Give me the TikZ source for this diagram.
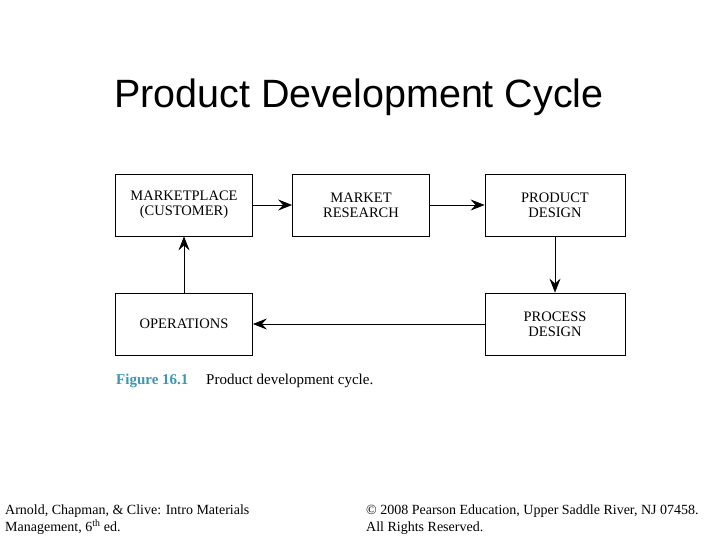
\documentclass[tikz,border=0pt]{standalone}
\usepackage{fontspec}
\setmainfont{Liberation Serif}
\newfontfamily\titlefont{Liberation Sans}
\usetikzlibrary{arrows.meta}
\definecolor{figteal}{RGB}{60,150,180}
\begin{document}
\begin{tikzpicture}[x=1pt,y=-1pt,
  box/.style={draw,line width=0.8pt,minimum width=137pt,minimum height=62pt,align=center,font=\fontsize{14.5}{15}\selectfont,inner sep=0pt},
  conn/.style={line width=0.8pt,-{Stealth[length=14pt,width=11pt,inset=5pt]}}]
\useasboundingbox (0,0) rectangle (720,540);
\node[font=\titlefont\fontsize{39.5}{44}\selectfont] (title) at (359,97) {Product Development Cycle};
\node[box] (mp) at (184,205) {MARKETPLACE\\(CUSTOMER)};
\node[box] (mr) at (361,205) {MARKET\\RESEARCH};
\node[box,minimum width=140pt] (pd) at (555,205) {PRODUCT\\DESIGN};
\node[box] (op) at (184,324) {OPERATIONS};
\node[box,minimum width=140pt] (prd) at (555,324) {PROCESS\\DESIGN};
\draw[conn] (mp) -- (mr);
\draw[conn] (mr) -- (pd);
\draw[conn] (pd) -- (prd);
\draw[conn] (prd) -- (op);
\draw[conn] (op) -- (mp);
\node[anchor=west,inner sep=0pt,font=\bfseries\fontsize{15}{16}\selectfont,text=figteal] (fig) at (116,381) {Figure 16.1};
\node[anchor=west,inner sep=0pt,font=\fontsize{15}{16}\selectfont] (cap) at (206,381) {Product development cycle.};
\node[anchor=north west,inner sep=0pt,align=left,font=\fontsize{14}{17}\selectfont] (fl) at (5,505) {Arnold, Chapman, \& Clive: Intro Materials\\Management, 6\textsuperscript{th} ed.};
\node[anchor=north west,inner sep=0pt,align=left,font=\fontsize{14}{17}\selectfont] (fr) at (366,505) {© 2008 Pearson Education, Upper Saddle River, NJ 07458.\\All Rights Reserved.};
\end{tikzpicture}
\end{document}
